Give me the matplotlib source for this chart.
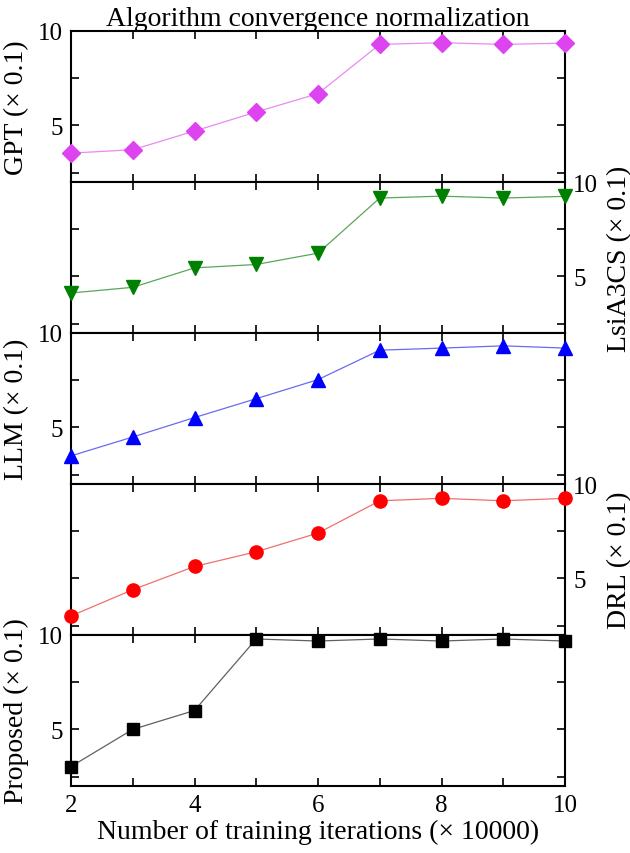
import matplotlib
matplotlib.use("Agg")
import matplotlib.pyplot as plt
import numpy as np

x = [2, 3, 4, 5, 6, 7, 8, 9, 10]
gpt = [3.53, 3.71, 4.70, 5.71, 6.68, 9.29, 9.38, 9.29, 9.36]
lsia3cs = [4.12, 4.42, 5.45, 5.63, 6.23, 9.15, 9.25, 9.15, 9.24]
llm = [3.49, 4.49, 5.52, 6.52, 7.53, 9.09, 9.20, 9.32, 9.20]
drl = [3.01, 4.40, 5.63, 6.41, 7.40, 9.11, 9.24, 9.11, 9.24]
proposed = [3.03, 5.00, 6.00, 9.79, 9.68, 9.79, 9.68, 9.79, 9.68]

names = ["GPT", "LsiA3CS", "LLM", "DRL", "Proposed"]
series = [gpt, lsia3cs, llm, drl, proposed]
colors = ["#dd44f0", "#008000", "#0000ff", "#ff0000", "#000000"]
line_colors = ["#e88af2", "#5aa65a", "#6a6af0", "#f07070", "#606060"]
markers = ["D", "v", "^", "o", "s"]
msizes = [9, 10, 10, 9.5, 8]
sides = ["left", "right", "left", "right", "left"]

ytick_vals = [2.5, 5, 7.5, 10]
ytick_labels = ["", "5", "", "10"]
xtick_vals = [2, 3, 4, 5, 6, 7, 8, 9, 10]
xtick_labels = ["2", "", "4", "", "6", "", "8", "", "10"]

plt.rcParams['font.family'] = ['Liberation Serif', 'DejaVu Serif']
plt.rcParams['mathtext.fontset'] = 'stix'

fig = plt.figure(figsize=(6.3, 8.54), dpi=100)
left, right, top, bottom = 71/630, 565/630, 1 - 32/854, 1 - 787/854
h = (top - bottom) / 5
axes = []
for i in range(5):
    ax = fig.add_axes([left, top - (i + 1) * h, right - left, h])
    axes.append(ax)
    ax.plot(x, series[i], color=line_colors[i], lw=0.9, zorder=2)
    ax.plot(x, series[i], linestyle='none', marker=markers[i], ms=msizes[i],
            color=colors[i], markeredgecolor=colors[i], zorder=3, clip_on=False)
    ax.set_xlim(2, 10)
    ax.set_ylim(2, 10)
    ax.set_yticks(ytick_vals)
    ax.set_xticks(xtick_vals)
    for s in ax.spines.values():
        s.set_linewidth(1.5)
    ax.tick_params(axis='both', direction='in', length=6, width=1.2,
                   top=True, bottom=True, left=True, right=True,
                   labelsize=18, pad=6)
    if sides[i] == 'right':
        ax.tick_params(axis='y', labelleft=False, labelright=True)
        ax.yaxis.set_label_position('right')
    ax.set_yticklabels(ytick_labels)
    ax.set_ylabel(names[i] + " (× 0.1)", fontsize=20, labelpad=6)
    if i < 4:
        ax.tick_params(axis='x', labelbottom=False)
    else:
        ax.set_xticklabels(xtick_labels)
        ax.set_xlabel("Number of training iterations (× 10000)", fontsize=20, labelpad=2)

axes[0].set_title("Algorithm convergence normalization", fontsize=20, pad=3)

fig.savefig("out.png", dpi=100)
